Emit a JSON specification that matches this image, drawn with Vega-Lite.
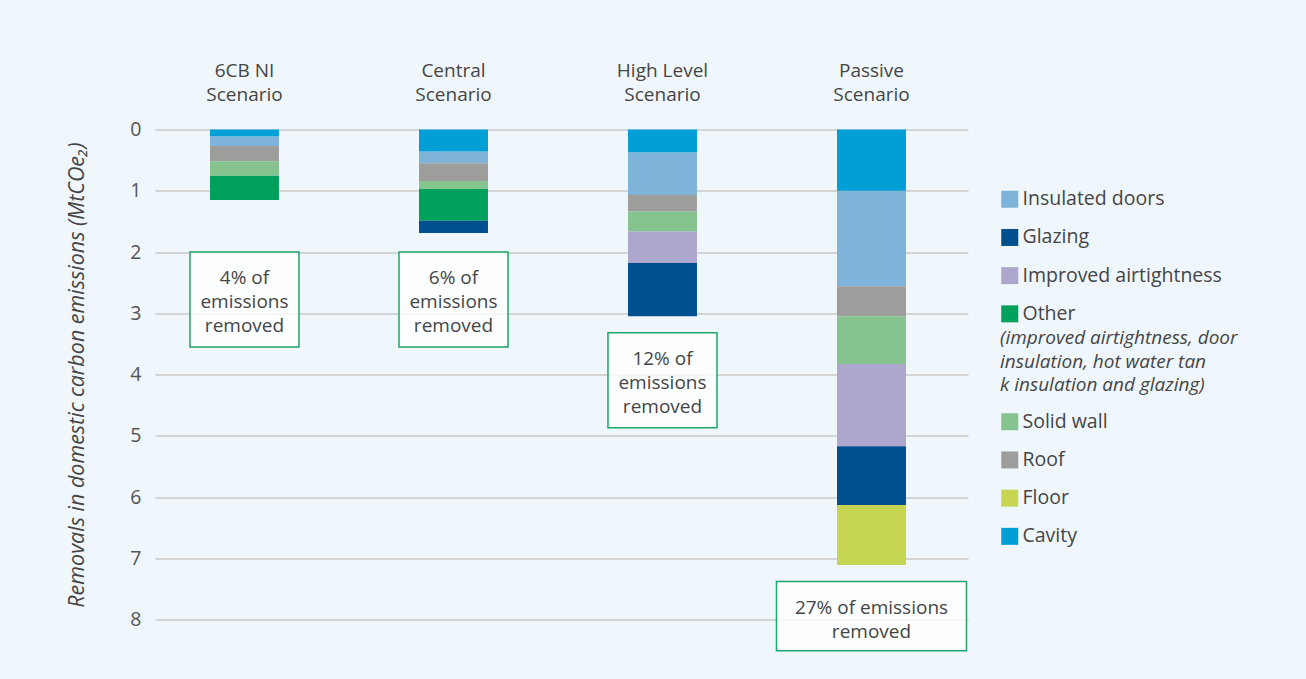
{
  "$schema": "https://vega.github.io/schema/vega-lite/v6.json",
  "width": 813,
  "height": 490,
  "autosize": {"type": "none"},
  "padding": {"left": 155, "top": 129.5, "right": 338, "bottom": 59.5},
  "background": "#f0f7fc",
  "config": {
    "font": "Open Sans",
    "view": {"stroke": null}
  },
  "datasets": {
    "segments": [
      {"scenario": "6CB NI Scenario", "measure": "Cavity", "value": 0.11},
      {"scenario": "6CB NI Scenario", "measure": "Insulated doors", "value": 0.16},
      {"scenario": "6CB NI Scenario", "measure": "Roof", "value": 0.25},
      {"scenario": "6CB NI Scenario", "measure": "Solid wall", "value": 0.23},
      {"scenario": "6CB NI Scenario", "measure": "Other", "value": 0.40},
      {"scenario": "Central Scenario", "measure": "Cavity", "value": 0.36},
      {"scenario": "Central Scenario", "measure": "Insulated doors", "value": 0.19},
      {"scenario": "Central Scenario", "measure": "Roof", "value": 0.29},
      {"scenario": "Central Scenario", "measure": "Solid wall", "value": 0.13},
      {"scenario": "Central Scenario", "measure": "Other", "value": 0.52},
      {"scenario": "Central Scenario", "measure": "Glazing", "value": 0.20},
      {"scenario": "High Level Scenario", "measure": "Cavity", "value": 0.37},
      {"scenario": "High Level Scenario", "measure": "Insulated doors", "value": 0.70},
      {"scenario": "High Level Scenario", "measure": "Roof", "value": 0.27},
      {"scenario": "High Level Scenario", "measure": "Solid wall", "value": 0.32},
      {"scenario": "High Level Scenario", "measure": "Improved airtightness", "value": 0.52},
      {"scenario": "High Level Scenario", "measure": "Glazing", "value": 0.87},
      {"scenario": "Passive Scenario", "measure": "Cavity", "value": 1.00},
      {"scenario": "Passive Scenario", "measure": "Insulated doors", "value": 1.56},
      {"scenario": "Passive Scenario", "measure": "Roof", "value": 0.49},
      {"scenario": "Passive Scenario", "measure": "Solid wall", "value": 0.78},
      {"scenario": "Passive Scenario", "measure": "Improved airtightness", "value": 1.34},
      {"scenario": "Passive Scenario", "measure": "Glazing", "value": 0.96},
      {"scenario": "Passive Scenario", "measure": "Floor", "value": 0.98}
    ],
    "notes": [
      {"scenario": "6CB NI Scenario", "note": "4% of\nemissions\nremoved"},
      {"scenario": "Central Scenario", "note": "6% of\nemissions\nremoved"},
      {"scenario": "High Level Scenario", "note": "12% of\nemissions\nremoved"},
      {"scenario": "Passive Scenario", "note": "27% of emissions\nremoved"}
    ]
  },
  "layer": [
    {
      "data": {"name": "segments"},
      "transform": [
        {"calculate": "indexof(['Cavity', 'Insulated doors', 'Roof', 'Solid wall', 'Other', 'Improved airtightness', 'Glazing', 'Floor'], datum.measure)", "as": "stack_rank"},
        {"stack": "value", "groupby": ["scenario"], "sort": [{"field": "stack_rank", "order": "ascending"}], "offset": "zero", "as": ["v_start", "v_end"]}
      ],
      "layer": [
        {
          "transform": [{"filter": {"field": "measure", "oneOf": ["Insulated doors", "Glazing", "Improved airtightness", "Other"]}}],
          "mark": {"type": "bar"},
          "encoding": {
            "x": {
              "field": "scenario",
              "type": "nominal",
              "title": null,
              "sort": ["6CB NI Scenario", "Central Scenario", "High Level Scenario", "Passive Scenario"],
              "scale": {"paddingInner": 0.67, "paddingOuter": 0.28, "align": 0.47},
              "axis": {
                "orient": "top",
                "domain": false,
                "ticks": false,
                "labelAngle": 0,
                "labelFontSize": 19,
                "labelColor": "#454545",
                "labelPadding": 49,
                "labelLineHeight": 24,
                "labelExpr": "[replace(datum.label, ' Scenario', ''), 'Scenario']"
              }
            },
            "y": {
              "field": "v_start",
              "type": "quantitative",
              "title": "Removals in domestic carbon emissions (MtCOe₂)",
              "scale": {"domain": [0, 8], "reverse": true, "nice": false},
              "axis": {
                "titleFontSize": 21.5,
                "titleFontStyle": "italic",
                "titleFontWeight": "normal",
                "titleColor": "#454545",
                "titlePadding": 41,
                "values": [0, 1, 2, 3, 4, 5, 6, 7, 8],
                "format": "d",
                "domain": false,
                "ticks": false,
                "labelFontSize": 19.5,
                "labelColor": "#555555",
                "labelPadding": 14,
                "grid": true,
                "gridColor": "#c9c9c9",
                "gridWidth": 1.5
              }
            },
            "y2": {"field": "v_end"},
            "color": {
              "field": "measure",
              "type": "nominal",
              "scale": {
                "domain": ["Insulated doors", "Glazing", "Improved airtightness", "Other"],
                "range": ["#7eb4da", "#004f8f", "#ada6cd", "#00a15c"]
              },
              "legend": {
                "orient": "none",
                "legendX": 845,
                "legendY": 60,
                "title": null,
                "padding": 0,
                "symbolType": "square",
                "symbolSize": 289,
                "symbolStrokeWidth": 0,
                "symbolOpacity": 1,
                "labelFontSize": 19.5,
                "labelColor": "#454545",
                "labelOffset": 3,
                "labelLimit": 320,
                "rowPadding": 17.2
              }
            }
          }
        },
        {
          "transform": [{"filter": {"field": "measure", "oneOf": ["Solid wall", "Roof", "Floor", "Cavity"]}}],
          "mark": {"type": "bar"},
          "encoding": {
            "x": {"field": "scenario", "type": "nominal", "title": null, "sort": ["6CB NI Scenario", "Central Scenario", "High Level Scenario", "Passive Scenario"]},
            "y": {"field": "v_start", "type": "quantitative", "title": "Removals in domestic carbon emissions (MtCOe₂)"},
            "y2": {"field": "v_end"},
            "fill": {
              "field": "measure",
              "type": "nominal",
              "scale": {
                "domain": ["Solid wall", "Roof", "Floor", "Cavity"],
                "range": ["#86c38f", "#9d9d9c", "#c6d652", "#009fd5"]
              },
              "legend": {
                "orient": "none",
                "legendX": 845,
                "legendY": 199.5,
                "padding": 0,
                "title": ["(improved airtightness, door", "insulation, hot water tan", "k insulation and glazing)"],
                "titleFontSize": 19,
                "titleFontStyle": "italic",
                "titleFontWeight": "normal",
                "titleColor": "#454545",
                "titleLineHeight": 23.5,
                "titleLimit": 400,
                "titlePadding": 17,
                "symbolType": "square",
                "symbolSize": 289,
                "symbolStrokeWidth": 0,
                "symbolOpacity": 1,
                "labelFontSize": 19.5,
                "labelColor": "#454545",
                "labelOffset": 3,
                "labelLimit": 320,
                "rowPadding": 17.2
              }
            }
          }
        }
      ]
    },
    {
      "data": {"name": "segments"},
      "transform": [
        {"aggregate": [{"op": "sum", "field": "value", "as": "total"}], "groupby": ["scenario"]},
        {"lookup": "scenario", "from": {"data": {"name": "notes"}, "key": "scenario", "fields": ["note"]}},
        {"calculate": "max(2, datum.total + 0.27)", "as": "box_top"},
        {"calculate": "datum.box_top + 0.42 * length(split(datum.note, '\\n')) + 0.29", "as": "box_bottom"}
      ],
      "layer": [
        {
          "transform": [{"filter": "datum.scenario !== 'Passive Scenario'"}],
          "mark": {"type": "bar", "width": 109, "fill": "#ffffff", "fillOpacity": 0.8, "stroke": "#1ea568", "strokeWidth": 1.5},
          "encoding": {
            "x": {"field": "scenario", "type": "nominal", "title": null, "sort": ["6CB NI Scenario", "Central Scenario", "High Level Scenario", "Passive Scenario"]},
            "y": {"field": "box_top", "type": "quantitative", "title": "Removals in domestic carbon emissions (MtCOe₂)"},
            "y2": {"field": "box_bottom"}
          }
        },
        {
          "transform": [{"filter": "datum.scenario === 'Passive Scenario'"}],
          "mark": {"type": "bar", "width": 190, "fill": "#ffffff", "fillOpacity": 0.8, "stroke": "#1ea568", "strokeWidth": 1.5},
          "encoding": {
            "x": {"field": "scenario", "type": "nominal", "title": null, "sort": ["6CB NI Scenario", "Central Scenario", "High Level Scenario", "Passive Scenario"]},
            "y": {"field": "box_top", "type": "quantitative", "title": "Removals in domestic carbon emissions (MtCOe₂)"},
            "y2": {"field": "box_bottom"}
          }
        },
        {
          "mark": {"type": "text", "lineBreak": "\n", "baseline": "middle", "align": "center", "fontSize": 19, "lineHeight": 24, "color": "#454545", "dy": 26},
          "encoding": {
            "x": {"field": "scenario", "type": "nominal", "title": null, "sort": ["6CB NI Scenario", "Central Scenario", "High Level Scenario", "Passive Scenario"]},
            "y": {"field": "box_top", "type": "quantitative", "title": "Removals in domestic carbon emissions (MtCOe₂)"},
            "text": {"field": "note"}
          }
        }
      ]
    }
  ]
}
